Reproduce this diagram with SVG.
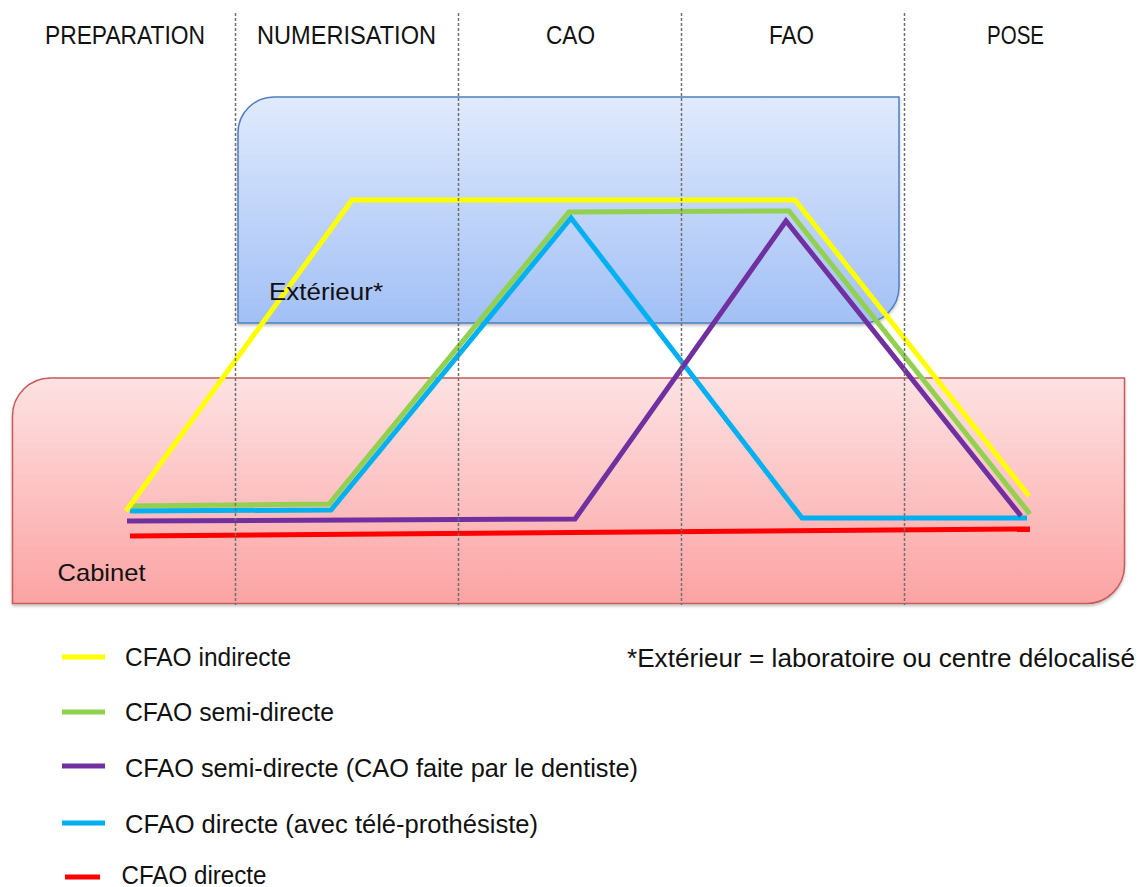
<svg xmlns="http://www.w3.org/2000/svg" width="1145" height="887" viewBox="0 0 1145 887">
<defs>
<linearGradient id="gBlue" x1="0" y1="0" x2="0" y2="1">
<stop offset="0" stop-color="#e0eafc"/>
<stop offset="1" stop-color="#a2c0f6"/>
</linearGradient>
<linearGradient id="gRed" x1="0" y1="0" x2="0" y2="1">
<stop offset="0" stop-color="#fde2e3"/>
<stop offset="1" stop-color="#fca3a3"/>
</linearGradient>
<filter id="sh" x="-5%" y="-5%" width="110%" height="115%">
<feDropShadow dx="0" dy="2" stdDeviation="1.5" flood-color="#000" flood-opacity="0.25"/>
</filter>
</defs>
<style>
text{font-family:"Liberation Sans",Arial,sans-serif;fill:#111}
.hd{font-size:26px}
.lb{font-size:24px}
.lg{font-size:25px}
.ln{fill:none;stroke-width:5;stroke-linejoin:miter;stroke-linecap:butt}
.dash{stroke:#6f6f6f;stroke-width:1.5;stroke-dasharray:3 2;fill:none}
</style>
<rect width="1145" height="887" fill="#fff"/>

<g id="zone-exterieur">
<path d="M274 97 H899 V287 A36 36 0 0 1 863 323 H238 V133 A36 36 0 0 1 274 97 Z" fill="url(#gBlue)" stroke="#4f7fc0" stroke-width="1.5" filter="url(#sh)"/>
</g>
<g id="zone-cabinet">
<path d="M51 378 H1124.5 V565 A38 38 0 0 1 1086 603.5 H12.5 V416 A38 38 0 0 1 51 378 Z" fill="url(#gRed)" stroke="#c65b58" stroke-width="1.5" filter="url(#sh)"/>
</g>

<g id="connectors">
<path class="ln" stroke="#92d050" d="M130 506 L329 504 L569 212 L789 211 L1030 514"/>
<path class="ln" stroke="#00b0f0" d="M130 511 L331 510 L571 218 L802 518 L1027 518"/>
<path class="ln" stroke="#7030a0" d="M127 521 L575 519 L786 221 L1021 516"/>
<path class="ln" stroke="#ffff00" d="M126 511 L352 200 L795 200 L1029 496"/>
<path class="ln" stroke="#ff0000" d="M130 536 L1030 529"/>
</g>

<g id="separators">
<line class="dash" x1="235.5" y1="13" x2="235.5" y2="605"/>
<line class="dash" x1="458.5" y1="13" x2="458.5" y2="605"/>
<line class="dash" x1="681.5" y1="13" x2="681.5" y2="605"/>
<line class="dash" x1="904.5" y1="13" x2="904.5" y2="605"/>
</g>

<g id="headers">
<text class="hd" x="45" y="44" textLength="160" lengthAdjust="spacingAndGlyphs">PREPARATION</text>
<text class="hd" x="257" y="44" textLength="179" lengthAdjust="spacingAndGlyphs">NUMERISATION</text>
<text class="hd" x="546" y="44" textLength="49" lengthAdjust="spacingAndGlyphs">CAO</text>
<text class="hd" x="769" y="44" textLength="45" lengthAdjust="spacingAndGlyphs">FAO</text>
<text class="hd" x="987" y="44" textLength="57" lengthAdjust="spacingAndGlyphs">POSE</text>
</g>

<g id="label-exterieur">
<text class="lb" x="269" y="300" textLength="114" lengthAdjust="spacingAndGlyphs">Extérieur*</text>
</g>
<g id="label-cabinet">
<text class="lb" x="57.5" y="581" textLength="88" lengthAdjust="spacingAndGlyphs">Cabinet</text>
</g>

<g id="legend">
<line class="ln" stroke="#ffff00" x1="62" y1="657" x2="105" y2="657"/>
<line class="ln" stroke="#92d050" x1="62" y1="712" x2="105" y2="712"/>
<line class="ln" stroke="#7030a0" x1="62" y1="766" x2="105" y2="766"/>
<line class="ln" stroke="#00b0f0" x1="62" y1="823" x2="105" y2="823"/>
<line class="ln" stroke="#ff0000" x1="65" y1="877" x2="100" y2="877"/>
<text class="lg" x="125" y="666" textLength="166" lengthAdjust="spacingAndGlyphs">CFAO indirecte</text>
<text class="lg" x="125" y="721" textLength="209" lengthAdjust="spacingAndGlyphs">CFAO semi-directe</text>
<text class="lg" x="125" y="777" textLength="513" lengthAdjust="spacingAndGlyphs">CFAO semi-directe (CAO faite par le dentiste)</text>
<text class="lg" x="125" y="833" textLength="413" lengthAdjust="spacingAndGlyphs">CFAO directe (avec télé-prothésiste)</text>
<text class="lg" x="121.5" y="884" textLength="145" lengthAdjust="spacingAndGlyphs">CFAO directe</text>
</g>

<g id="footnote">
<text class="lg" x="627" y="667" textLength="508" lengthAdjust="spacingAndGlyphs">*Extérieur = laboratoire ou centre délocalisé</text>
</g>
</svg>
